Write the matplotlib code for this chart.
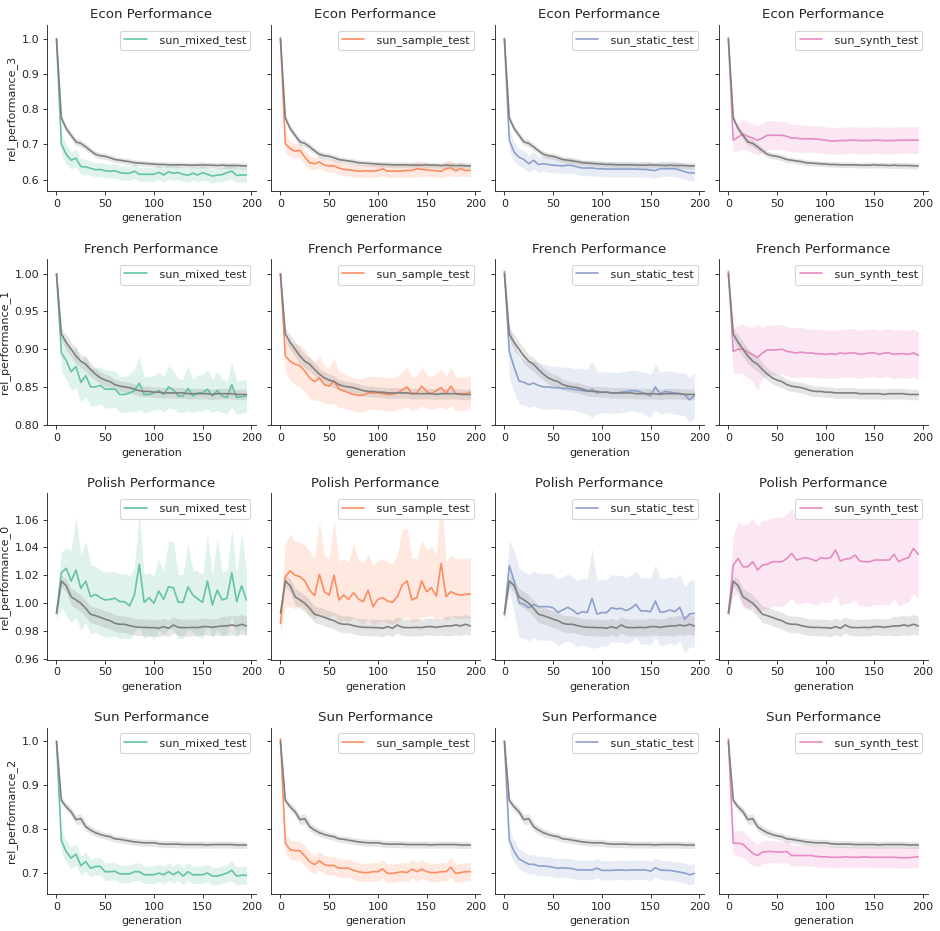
import matplotlib
matplotlib.use("Agg")
import matplotlib.pyplot as plt
import numpy as np
import seaborn as sns

# x grid: generations 0..195 every 5
generation = list(range(0, 200, 5))

tasks = ["Econ", "French", "Polish", "Sun"]
metrics = ["rel_performance_3", "rel_performance_1", "rel_performance_0", "rel_performance_2"]
runs = ["sun_mixed_test", "sun_sample_test", "sun_static_test", "sun_synth_test"]
colors = ["#66c2a5", "#fc8d62", "#8da0cb", "#e78ac3"]

# ---- Econ ----
econ_base = [1.000, 0.775, 0.745, 0.726, 0.707, 0.703, 0.693, 0.682, 0.672, 0.668, 0.666, 0.662, 0.657, 0.655, 0.653, 0.651, 0.648, 0.647, 0.646, 0.645,
             0.644, 0.643, 0.643, 0.642, 0.642, 0.642, 0.642, 0.641, 0.641, 0.641, 0.642, 0.641, 0.641, 0.640, 0.641, 0.640, 0.640, 0.640, 0.639, 0.639]
econ_base_err = [0.008, 0.010, 0.010, 0.010, 0.010, 0.010, 0.010, 0.009, 0.009, 0.009, 0.009, 0.009, 0.009, 0.008, 0.008, 0.008, 0.008, 0.008, 0.008, 0.008,
                 0.008, 0.008, 0.008, 0.008, 0.008, 0.008, 0.008, 0.008, 0.008, 0.009, 0.009, 0.008, 0.008, 0.008, 0.009, 0.009, 0.009, 0.009, 0.009, 0.009]
econ_mixed = [1.000, 0.700, 0.672, 0.655, 0.661, 0.637, 0.636, 0.632, 0.628, 0.629, 0.625, 0.624, 0.625, 0.620, 0.618, 0.618, 0.624, 0.615, 0.615, 0.615,
              0.615, 0.621, 0.613, 0.622, 0.618, 0.620, 0.615, 0.612, 0.618, 0.613, 0.620, 0.615, 0.610, 0.613, 0.614, 0.620, 0.624, 0.612, 0.613, 0.613]
econ_mixed_err = [0.010, 0.030, 0.028, 0.025, 0.025, 0.022, 0.022, 0.020, 0.020, 0.020, 0.020, 0.020, 0.020, 0.020, 0.020, 0.020, 0.020, 0.020, 0.020, 0.020,
                  0.020, 0.021, 0.020, 0.021, 0.020, 0.020, 0.020, 0.020, 0.020, 0.020, 0.021, 0.020, 0.020, 0.020, 0.020, 0.021, 0.022, 0.020, 0.020, 0.020]
econ_sample = [1.003, 0.702, 0.688, 0.681, 0.683, 0.664, 0.648, 0.645, 0.650, 0.641, 0.639, 0.639, 0.633, 0.629, 0.628, 0.626, 0.624, 0.624, 0.625, 0.624,
               0.626, 0.631, 0.624, 0.624, 0.624, 0.625, 0.626, 0.626, 0.631, 0.629, 0.628, 0.626, 0.625, 0.624, 0.631, 0.633, 0.625, 0.631, 0.626, 0.626]
econ_sample_err = [0.012, 0.025, 0.022, 0.020, 0.020, 0.020, 0.018, 0.018, 0.018, 0.018, 0.018, 0.018, 0.018, 0.018, 0.018, 0.018, 0.018, 0.018, 0.018, 0.018,
                   0.018, 0.020, 0.018, 0.018, 0.018, 0.018, 0.020, 0.021, 0.023, 0.020, 0.018, 0.018, 0.018, 0.018, 0.022, 0.022, 0.018, 0.020, 0.018, 0.018]
econ_static = [1.000, 0.712, 0.678, 0.664, 0.657, 0.645, 0.655, 0.643, 0.645, 0.643, 0.641, 0.640, 0.639, 0.641, 0.640, 0.636, 0.633, 0.633, 0.633, 0.631,
               0.631, 0.630, 0.630, 0.630, 0.630, 0.630, 0.630, 0.630, 0.629, 0.629, 0.627, 0.626, 0.631, 0.631, 0.631, 0.631, 0.627, 0.623, 0.619, 0.619]
econ_static_err = [0.010, 0.030, 0.028, 0.025, 0.025, 0.023, 0.025, 0.022, 0.022, 0.022, 0.022, 0.022, 0.022, 0.022, 0.022, 0.022, 0.022, 0.022, 0.022, 0.022,
                   0.022, 0.022, 0.022, 0.022, 0.022, 0.022, 0.022, 0.022, 0.022, 0.022, 0.022, 0.023, 0.022, 0.022, 0.022, 0.022, 0.022, 0.022, 0.023, 0.023]
econ_synth = [1.003, 0.712, 0.721, 0.730, 0.723, 0.718, 0.712, 0.718, 0.726, 0.726, 0.726, 0.726, 0.723, 0.718, 0.718, 0.716, 0.716, 0.716, 0.715, 0.714,
              0.712, 0.710, 0.710, 0.711, 0.711, 0.712, 0.712, 0.711, 0.711, 0.711, 0.712, 0.712, 0.711, 0.711, 0.711, 0.712, 0.712, 0.712, 0.712, 0.712]
econ_synth_err = [0.010, 0.030, 0.040, 0.043, 0.042, 0.042, 0.042, 0.042, 0.042, 0.041, 0.040, 0.040, 0.040, 0.040, 0.039, 0.039, 0.038, 0.038, 0.038, 0.038,
                  0.038, 0.038, 0.038, 0.038, 0.038, 0.038, 0.038, 0.038, 0.038, 0.038, 0.038, 0.038, 0.038, 0.038, 0.038, 0.038, 0.038, 0.038, 0.038, 0.038]

# ---- French ----
french_base = [1.000, 0.920, 0.909, 0.900, 0.891, 0.884, 0.880, 0.873, 0.867, 0.862, 0.859, 0.857, 0.853, 0.851, 0.850, 0.849, 0.847, 0.845, 0.844, 0.844,
               0.843, 0.843, 0.842, 0.842, 0.842, 0.842, 0.842, 0.841, 0.841, 0.841, 0.841, 0.841, 0.840, 0.841, 0.841, 0.841, 0.841, 0.840, 0.840, 0.840]
french_base_err = [0.004, 0.008, 0.010, 0.010, 0.010, 0.009, 0.009, 0.009, 0.008, 0.008, 0.008, 0.008, 0.007, 0.007, 0.007, 0.007, 0.007, 0.007, 0.007, 0.007,
                   0.007, 0.007, 0.007, 0.007, 0.007, 0.007, 0.007, 0.007, 0.007, 0.007, 0.007, 0.007, 0.007, 0.007, 0.007, 0.007, 0.007, 0.007, 0.007, 0.007]
french_mixed = [1.000, 0.895, 0.885, 0.870, 0.877, 0.856, 0.865, 0.850, 0.850, 0.852, 0.847, 0.847, 0.847, 0.840, 0.840, 0.842, 0.845, 0.855, 0.840, 0.840,
                0.842, 0.845, 0.840, 0.850, 0.846, 0.838, 0.838, 0.848, 0.838, 0.842, 0.842, 0.847, 0.838, 0.845, 0.838, 0.836, 0.853, 0.836, 0.837, 0.838]
french_mixed_err = [0.005, 0.025, 0.025, 0.025, 0.028, 0.027, 0.028, 0.026, 0.025, 0.025, 0.025, 0.025, 0.024, 0.024, 0.024, 0.025, 0.028, 0.035, 0.024, 0.023,
                    0.023, 0.025, 0.023, 0.028, 0.025, 0.022, 0.022, 0.030, 0.022, 0.024, 0.024, 0.026, 0.022, 0.026, 0.022, 0.022, 0.030, 0.022, 0.022, 0.022]
french_sample = [1.000, 0.891, 0.884, 0.880, 0.878, 0.871, 0.862, 0.857, 0.862, 0.853, 0.851, 0.858, 0.847, 0.845, 0.842, 0.840, 0.839, 0.839, 0.842, 0.842,
                 0.842, 0.841, 0.840, 0.840, 0.842, 0.846, 0.850, 0.841, 0.842, 0.851, 0.844, 0.841, 0.845, 0.849, 0.842, 0.851, 0.841, 0.841, 0.841, 0.843]
french_sample_err = [0.010, 0.022, 0.025, 0.027, 0.028, 0.028, 0.027, 0.025, 0.030, 0.025, 0.024, 0.030, 0.024, 0.023, 0.022, 0.022, 0.022, 0.022, 0.022, 0.022,
                     0.022, 0.022, 0.022, 0.022, 0.022, 0.024, 0.026, 0.022, 0.022, 0.026, 0.022, 0.022, 0.023, 0.025, 0.022, 0.025, 0.022, 0.022, 0.022, 0.022]
french_static = [1.003, 0.897, 0.876, 0.858, 0.856, 0.853, 0.855, 0.852, 0.850, 0.850, 0.849, 0.849, 0.848, 0.848, 0.847, 0.846, 0.845, 0.844, 0.847, 0.842,
                 0.843, 0.843, 0.842, 0.842, 0.843, 0.844, 0.845, 0.845, 0.843, 0.841, 0.838, 0.850, 0.841, 0.844, 0.843, 0.842, 0.841, 0.840, 0.833, 0.838]
french_static_err = [0.010, 0.035, 0.033, 0.030, 0.030, 0.030, 0.030, 0.030, 0.030, 0.029, 0.028, 0.028, 0.028, 0.028, 0.028, 0.028, 0.030, 0.029, 0.038, 0.028,
                     0.027, 0.027, 0.027, 0.027, 0.027, 0.027, 0.027, 0.027, 0.027, 0.028, 0.028, 0.030, 0.028, 0.028, 0.028, 0.028, 0.028, 0.028, 0.030, 0.030]
french_synth = [1.003, 0.897, 0.900, 0.900, 0.896, 0.893, 0.889, 0.895, 0.899, 0.899, 0.899, 0.900, 0.897, 0.896, 0.895, 0.896, 0.895, 0.895, 0.894, 0.894,
                0.893, 0.894, 0.893, 0.895, 0.894, 0.895, 0.895, 0.893, 0.894, 0.895, 0.895, 0.893, 0.895, 0.895, 0.893, 0.894, 0.894, 0.893, 0.895, 0.892]
french_synth_err = [0.010, 0.030, 0.032, 0.033, 0.034, 0.036, 0.044, 0.034, 0.033, 0.033, 0.033, 0.033, 0.033, 0.033, 0.033, 0.033, 0.032, 0.032, 0.032, 0.032,
                    0.032, 0.032, 0.032, 0.032, 0.032, 0.032, 0.032, 0.032, 0.032, 0.032, 0.032, 0.032, 0.032, 0.032, 0.032, 0.032, 0.032, 0.032, 0.032, 0.032]

# ---- Polish ----
polish_base = [0.9926, 1.0158, 1.0125, 1.0045, 1.0022, 0.9998, 0.9962, 0.9919, 0.9909, 0.9897, 0.9883, 0.9873, 0.9854, 0.9847, 0.9847, 0.9837, 0.9830, 0.9825, 0.9825, 0.9823,
               0.9823, 0.9818, 0.9830, 0.9818, 0.9842, 0.9825, 0.9823, 0.9823, 0.9825, 0.9823, 0.9830, 0.9830, 0.9825, 0.9830, 0.9835, 0.9835, 0.9842, 0.9835, 0.9847, 0.9835]
polish_base_err = [0.003, 0.004, 0.005, 0.006, 0.006, 0.006, 0.006, 0.006, 0.006, 0.006, 0.006, 0.006, 0.006, 0.006, 0.006, 0.006, 0.006, 0.006, 0.006, 0.006,
                   0.006, 0.006, 0.006, 0.006, 0.006, 0.006, 0.006, 0.006, 0.006, 0.006, 0.006, 0.006, 0.006, 0.006, 0.007, 0.007, 0.007, 0.007, 0.007, 0.007]
polish_mixed = [0.9926, 1.0218, 1.0250, 1.0158, 1.0237, 1.0105, 1.0158, 1.0045, 1.0062, 1.0038, 1.0022, 1.0026, 1.0034, 1.0010, 1.0010, 0.9980, 1.0057, 1.0278, 1.0005, 1.0038,
                0.9998, 1.0086, 1.0026, 1.0117, 1.0110, 1.0005, 1.0005, 1.0117, 1.0057, 1.0030, 1.0005, 1.0158, 0.9986, 1.0093, 1.0022, 1.0034, 1.0218, 1.0010, 1.0125, 1.0022]
# the polish bands are skewed, so lower / upper half-widths are read separately
polish_mixed_lo = [0.004, 0.025, 0.034, 0.030, 0.034, 0.030, 0.030, 0.027, 0.027, 0.027, 0.027, 0.027, 0.027, 0.027, 0.026, 0.024, 0.027, 0.045, 0.026, 0.027,
                   0.026, 0.028, 0.026, 0.030, 0.030, 0.026, 0.026, 0.030, 0.027, 0.027, 0.026, 0.030, 0.024, 0.028, 0.026, 0.026, 0.030, 0.026, 0.030, 0.026]
polish_mixed_hi = [0.004, 0.015, 0.015, 0.022, 0.038, 0.024, 0.029, 0.023, 0.020, 0.020, 0.020, 0.020, 0.019, 0.020, 0.020, 0.022, 0.020, 0.038, 0.020, 0.018,
                   0.020, 0.023, 0.020, 0.033, 0.033, 0.020, 0.020, 0.031, 0.018, 0.020, 0.020, 0.034, 0.020, 0.038, 0.020, 0.020, 0.031, 0.020, 0.039, 0.020]
polish_sample = [0.9854, 1.0190, 1.0232, 1.0200, 1.0190, 1.0158, 1.0093, 1.0053, 1.0206, 1.0081, 1.0057, 1.0200, 1.0022, 1.0057, 1.0026, 1.0074, 1.0029, 1.0010, 1.0093, 0.9974,
                 1.0026, 1.0038, 1.0014, 1.0005, 1.0045, 1.0129, 1.0158, 1.0022, 1.0038, 1.0160, 1.0081, 1.0110, 1.0050, 1.0285, 1.0045, 1.0081, 1.0065, 1.0057, 1.0062, 1.0065]
polish_sample_lo = [0.008, 0.020, 0.026, 0.024, 0.021, 0.020, 0.018, 0.017, 0.028, 0.018, 0.017, 0.028, 0.016, 0.018, 0.016, 0.018, 0.016, 0.016, 0.020, 0.014,
                    0.016, 0.017, 0.016, 0.016, 0.018, 0.024, 0.026, 0.016, 0.017, 0.026, 0.018, 0.020, 0.017, 0.038, 0.017, 0.018, 0.017, 0.017, 0.017, 0.017]
polish_sample_hi = [0.008, 0.024, 0.026, 0.024, 0.025, 0.026, 0.028, 0.026, 0.038, 0.026, 0.026, 0.040, 0.028, 0.026, 0.027, 0.036, 0.028, 0.028, 0.026, 0.030,
                    0.028, 0.028, 0.028, 0.028, 0.030, 0.040, 0.038, 0.030, 0.028, 0.030, 0.030, 0.030, 0.030, 0.050, 0.026, 0.026, 0.026, 0.026, 0.026, 0.026]
polish_static = [0.9914, 1.0268, 1.0158, 1.0002, 0.9990, 0.9966, 0.9990, 0.9974, 0.9974, 0.9974, 0.9966, 0.9933, 0.9950, 0.9969, 0.9950, 0.9921, 0.9938, 0.9931, 1.0034, 0.9921,
                 0.9931, 0.9931, 0.9966, 0.9957, 0.9962, 0.9945, 0.9962, 0.9990, 0.9943, 0.9943, 0.9938, 1.0014, 0.9933, 0.9938, 0.9950, 0.9938, 0.9969, 0.9883, 0.9921, 0.9926]
polish_static_err = [0.004, 0.018, 0.022, 0.025, 0.024, 0.024, 0.024, 0.024, 0.024, 0.024, 0.024, 0.024, 0.024, 0.024, 0.024, 0.024, 0.024, 0.024, 0.036, 0.024,
                     0.024, 0.024, 0.024, 0.024, 0.024, 0.024, 0.024, 0.024, 0.024, 0.024, 0.024, 0.026, 0.024, 0.024, 0.024, 0.024, 0.024, 0.024, 0.024, 0.024]
polish_synth = [0.9926, 1.0273, 1.0320, 1.0261, 1.0261, 1.0297, 1.0237, 1.0273, 1.0278, 1.0297, 1.0297, 1.0297, 1.0320, 1.0357, 1.0309, 1.0320, 1.0326, 1.0316, 1.0302, 1.0326,
                1.0320, 1.0326, 1.0381, 1.0302, 1.0316, 1.0320, 1.0345, 1.0302, 1.0297, 1.0297, 1.0309, 1.0309, 1.0309, 1.0309, 1.0350, 1.0297, 1.0316, 1.0326, 1.0393, 1.0350]
polish_synth_err = [0.004, 0.022, 0.026, 0.030, 0.031, 0.031, 0.032, 0.032, 0.032, 0.032, 0.032, 0.032, 0.032, 0.032, 0.032, 0.032, 0.032, 0.032, 0.032, 0.032,
                    0.032, 0.032, 0.032, 0.032, 0.032, 0.032, 0.032, 0.032, 0.032, 0.032, 0.032, 0.032, 0.032, 0.032, 0.032, 0.032, 0.032, 0.032, 0.032, 0.032]

# ---- Sun ----
sun_base = [1.000, 0.865, 0.850, 0.839, 0.821, 0.823, 0.805, 0.797, 0.791, 0.787, 0.784, 0.782, 0.777, 0.776, 0.774, 0.772, 0.770, 0.769, 0.768, 0.768,
            0.768, 0.766, 0.765, 0.765, 0.765, 0.765, 0.764, 0.764, 0.764, 0.764, 0.764, 0.763, 0.764, 0.764, 0.764, 0.764, 0.764, 0.763, 0.763, 0.763]
sun_base_err = [0.004, 0.008, 0.009, 0.010, 0.011, 0.012, 0.010, 0.009, 0.009, 0.008, 0.008, 0.008, 0.008, 0.008, 0.008, 0.008, 0.008, 0.008, 0.008, 0.008,
                0.008, 0.008, 0.008, 0.008, 0.008, 0.008, 0.008, 0.008, 0.008, 0.008, 0.008, 0.008, 0.008, 0.008, 0.008, 0.008, 0.008, 0.008, 0.008, 0.008]
sun_mixed = [1.000, 0.772, 0.748, 0.733, 0.742, 0.716, 0.725, 0.710, 0.714, 0.714, 0.702, 0.702, 0.703, 0.697, 0.697, 0.697, 0.702, 0.702, 0.695, 0.695,
             0.695, 0.699, 0.695, 0.702, 0.695, 0.702, 0.692, 0.702, 0.695, 0.695, 0.695, 0.699, 0.692, 0.692, 0.695, 0.699, 0.705, 0.692, 0.694, 0.694]
sun_mixed_err = [0.004, 0.025, 0.025, 0.025, 0.025, 0.022, 0.022, 0.020, 0.020, 0.020, 0.020, 0.020, 0.020, 0.020, 0.020, 0.020, 0.020, 0.020, 0.020, 0.020,
                 0.020, 0.020, 0.020, 0.020, 0.020, 0.020, 0.020, 0.020, 0.020, 0.020, 0.020, 0.020, 0.020, 0.020, 0.020, 0.020, 0.024, 0.020, 0.021, 0.021]
sun_sample = [1.005, 0.767, 0.752, 0.750, 0.750, 0.738, 0.725, 0.718, 0.727, 0.718, 0.716, 0.716, 0.710, 0.710, 0.710, 0.705, 0.702, 0.700, 0.700, 0.702,
              0.702, 0.708, 0.698, 0.698, 0.700, 0.702, 0.700, 0.708, 0.702, 0.708, 0.702, 0.700, 0.700, 0.702, 0.702, 0.712, 0.698, 0.700, 0.702, 0.702]
sun_sample_err = [0.006, 0.022, 0.022, 0.022, 0.022, 0.022, 0.022, 0.021, 0.021, 0.021, 0.021, 0.021, 0.021, 0.021, 0.021, 0.021, 0.021, 0.021, 0.021, 0.021,
                  0.021, 0.021, 0.021, 0.021, 0.021, 0.021, 0.021, 0.021, 0.021, 0.021, 0.021, 0.021, 0.021, 0.021, 0.021, 0.024, 0.021, 0.021, 0.021, 0.021]
sun_static = [1.000, 0.774, 0.748, 0.731, 0.725, 0.719, 0.719, 0.715, 0.715, 0.714, 0.712, 0.710, 0.711, 0.710, 0.709, 0.706, 0.706, 0.706, 0.706, 0.710,
              0.705, 0.705, 0.705, 0.706, 0.706, 0.705, 0.706, 0.706, 0.706, 0.706, 0.703, 0.711, 0.706, 0.705, 0.705, 0.703, 0.701, 0.699, 0.695, 0.698]
sun_static_err = [0.004, 0.025, 0.025, 0.023, 0.022, 0.022, 0.022, 0.022, 0.022, 0.022, 0.022, 0.022, 0.022, 0.022, 0.022, 0.022, 0.022, 0.022, 0.022, 0.022,
                  0.022, 0.022, 0.022, 0.022, 0.022, 0.022, 0.022, 0.022, 0.022, 0.022, 0.022, 0.022, 0.022, 0.022, 0.022, 0.022, 0.023, 0.023, 0.023, 0.023]
sun_synth = [1.005, 0.767, 0.767, 0.765, 0.754, 0.744, 0.739, 0.747, 0.748, 0.748, 0.747, 0.747, 0.748, 0.739, 0.739, 0.739, 0.739, 0.739, 0.737, 0.736,
             0.736, 0.735, 0.735, 0.735, 0.736, 0.735, 0.735, 0.735, 0.736, 0.735, 0.735, 0.735, 0.735, 0.735, 0.735, 0.734, 0.734, 0.734, 0.735, 0.736]
sun_synth_err = [0.006, 0.025, 0.030, 0.030, 0.030, 0.028, 0.026, 0.026, 0.026, 0.025, 0.025, 0.025, 0.025, 0.024, 0.024, 0.024, 0.024, 0.024, 0.024, 0.024,
                 0.024, 0.024, 0.024, 0.024, 0.024, 0.024, 0.024, 0.024, 0.024, 0.024, 0.024, 0.024, 0.024, 0.024, 0.024, 0.024, 0.024, 0.024, 0.024, 0.024]

# (values, lower half-width, upper half-width)
base_rows = [(econ_base, econ_base_err, econ_base_err), (french_base, french_base_err, french_base_err),
             (polish_base, polish_base_err, polish_base_err), (sun_base, sun_base_err, sun_base_err)]
run_rows = [
    [(econ_mixed, econ_mixed_err, econ_mixed_err), (econ_sample, econ_sample_err, econ_sample_err),
     (econ_static, econ_static_err, econ_static_err), (econ_synth, econ_synth_err, econ_synth_err)],
    [(french_mixed, french_mixed_err, french_mixed_err), (french_sample, french_sample_err, french_sample_err),
     (french_static, french_static_err, french_static_err), (french_synth, french_synth_err, french_synth_err)],
    [(polish_mixed, polish_mixed_lo, polish_mixed_hi), (polish_sample, polish_sample_lo, polish_sample_hi),
     (polish_static, polish_static_err, polish_static_err), (polish_synth, polish_synth_err, polish_synth_err)],
    [(sun_mixed, sun_mixed_err, sun_mixed_err), (sun_sample, sun_sample_err, sun_sample_err),
     (sun_static, sun_static_err, sun_static_err), (sun_synth, sun_synth_err, sun_synth_err)],
]
row_ylims = [(0.567, 1.039), (0.799, 1.019), (0.9593, 1.0788), (0.6516, 1.031)]

sns.set_style("ticks")

fig, axes = plt.subplots(4, 4, figsize=(11.75, 11.6375), dpi=80, sharey="row")
x = np.array(generation)

for r in range(4):
    base, b_lo, b_hi = (np.array(a) for a in base_rows[r])
    for c in range(4):
        ax = axes[r, c]
        vals, lo, hi = (np.array(a) for a in run_rows[r][c])
        ax.fill_between(x, vals - lo, vals + hi, color=colors[c], alpha=0.2, linewidth=0)
        line, = ax.plot(x, vals, color=colors[c], linewidth=1.5, label=" " + runs[c])
        ax.fill_between(x, base - b_lo, base + b_hi, color="gray", alpha=0.2, linewidth=0)
        ax.plot(x, base, color="gray", linewidth=1.5)
        ax.set_title(f"{tasks[r]} Performance")
        ax.set_xlabel("generation")
        ax.set_xticks([0, 50, 100, 150, 200])
        ax.legend(handles=[line], loc="upper right")
        if c == 0:
            ax.set_ylabel(metrics[r])
    axes[r, 0].set_ylim(*row_ylims[r])

sns.despine(fig=fig)
fig.subplots_adjust(left=0.050, right=0.987, top=0.973, bottom=0.040, wspace=0.072, hspace=0.41)
fig.savefig("out.png", dpi=80)
